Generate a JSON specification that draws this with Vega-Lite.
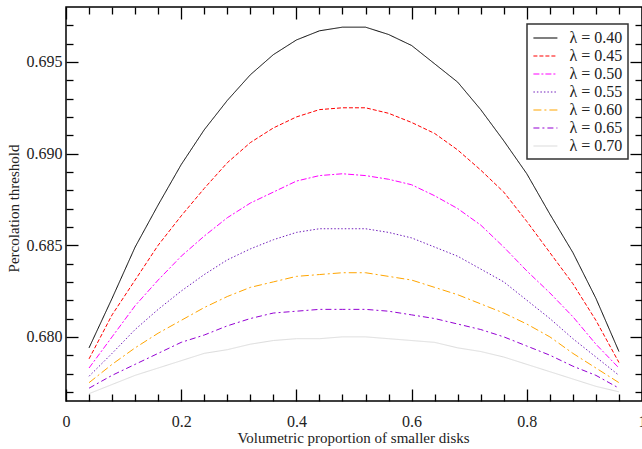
{
  "$schema": "https://vega.github.io/schema/vega-lite/v6.json",
  "autosize": {"type": "none"},
  "width": 576,
  "height": 394,
  "padding": {"left": 66, "top": 7, "right": 0, "bottom": 48},
  "background": "white",
  "config": {
    "view": {"stroke": "black", "strokeWidth": 1.5},
    "axis": {
      "domain": false,
      "grid": false,
      "labelFont": "Liberation Serif",
      "labelFontSize": 16,
      "labelColor": "#222222",
      "titleFont": "Liberation Serif",
      "titleFontSize": 15,
      "titleFontWeight": "normal",
      "titleColor": "#222222",
      "tickColor": "black",
      "tickWidth": 1.3
    },
    "legend": {
      "orient": "none",
      "legendX": 461,
      "legendY": 17,
      "strokeColor": "#333333",
      "strokeWidth": 1.5,
      "fillColor": "white",
      "padding": 5,
      "symbolType": "M-1.5,0H1.5",
      "symbolSize": 256,
      "symbolOffset": 4.4,
      "symbolStrokeWidth": 1.2,
      "labelFont": "Liberation Serif",
      "labelFontSize": 16,
      "labelColor": "#222222",
      "labelOffset": 15,
      "rowPadding": 1
    }
  },
  "datasets": {
    "curves": [
      {"x": 0.04, "y": 0.6794, "lam": "λ = 0.40"}, {"x": 0.08, "y": 0.6821, "lam": "λ = 0.40"}, {"x": 0.12, "y": 0.6849, "lam": "λ = 0.40"}, {"x": 0.16, "y": 0.6872, "lam": "λ = 0.40"}, {"x": 0.20, "y": 0.6894, "lam": "λ = 0.40"}, {"x": 0.24, "y": 0.6913, "lam": "λ = 0.40"}, {"x": 0.28, "y": 0.6929, "lam": "λ = 0.40"}, {"x": 0.32, "y": 0.6943, "lam": "λ = 0.40"}, {"x": 0.36, "y": 0.6954, "lam": "λ = 0.40"}, {"x": 0.40, "y": 0.6962, "lam": "λ = 0.40"}, {"x": 0.44, "y": 0.6967, "lam": "λ = 0.40"}, {"x": 0.48, "y": 0.6969, "lam": "λ = 0.40"}, {"x": 0.52, "y": 0.6969, "lam": "λ = 0.40"}, {"x": 0.56, "y": 0.6965, "lam": "λ = 0.40"}, {"x": 0.60, "y": 0.6959, "lam": "λ = 0.40"}, {"x": 0.64, "y": 0.6949, "lam": "λ = 0.40"}, {"x": 0.68, "y": 0.6939, "lam": "λ = 0.40"}, {"x": 0.72, "y": 0.6924, "lam": "λ = 0.40"}, {"x": 0.76, "y": 0.6907, "lam": "λ = 0.40"}, {"x": 0.80, "y": 0.6889, "lam": "λ = 0.40"}, {"x": 0.84, "y": 0.6867, "lam": "λ = 0.40"}, {"x": 0.88, "y": 0.6846, "lam": "λ = 0.40"}, {"x": 0.92, "y": 0.6821, "lam": "λ = 0.40"}, {"x": 0.96, "y": 0.6792, "lam": "λ = 0.40"},
      {"x": 0.04, "y": 0.6788, "lam": "λ = 0.45"}, {"x": 0.08, "y": 0.6812, "lam": "λ = 0.45"}, {"x": 0.12, "y": 0.6831, "lam": "λ = 0.45"}, {"x": 0.16, "y": 0.6850, "lam": "λ = 0.45"}, {"x": 0.20, "y": 0.6866, "lam": "λ = 0.45"}, {"x": 0.24, "y": 0.6881, "lam": "λ = 0.45"}, {"x": 0.28, "y": 0.6895, "lam": "λ = 0.45"}, {"x": 0.32, "y": 0.6906, "lam": "λ = 0.45"}, {"x": 0.36, "y": 0.6914, "lam": "λ = 0.45"}, {"x": 0.40, "y": 0.6920, "lam": "λ = 0.45"}, {"x": 0.44, "y": 0.6924, "lam": "λ = 0.45"}, {"x": 0.48, "y": 0.6925, "lam": "λ = 0.45"}, {"x": 0.52, "y": 0.6925, "lam": "λ = 0.45"}, {"x": 0.56, "y": 0.6922, "lam": "λ = 0.45"}, {"x": 0.60, "y": 0.6917, "lam": "λ = 0.45"}, {"x": 0.64, "y": 0.6911, "lam": "λ = 0.45"}, {"x": 0.68, "y": 0.6902, "lam": "λ = 0.45"}, {"x": 0.72, "y": 0.6891, "lam": "λ = 0.45"}, {"x": 0.76, "y": 0.6879, "lam": "λ = 0.45"}, {"x": 0.80, "y": 0.6863, "lam": "λ = 0.45"}, {"x": 0.84, "y": 0.6846, "lam": "λ = 0.45"}, {"x": 0.88, "y": 0.6829, "lam": "λ = 0.45"}, {"x": 0.92, "y": 0.6809, "lam": "λ = 0.45"}, {"x": 0.96, "y": 0.6786, "lam": "λ = 0.45"},
      {"x": 0.04, "y": 0.6783, "lam": "λ = 0.50"}, {"x": 0.08, "y": 0.6800, "lam": "λ = 0.50"}, {"x": 0.12, "y": 0.6817, "lam": "λ = 0.50"}, {"x": 0.16, "y": 0.6831, "lam": "λ = 0.50"}, {"x": 0.20, "y": 0.6844, "lam": "λ = 0.50"}, {"x": 0.24, "y": 0.6855, "lam": "λ = 0.50"}, {"x": 0.28, "y": 0.6865, "lam": "λ = 0.50"}, {"x": 0.32, "y": 0.6873, "lam": "λ = 0.50"}, {"x": 0.36, "y": 0.6879, "lam": "λ = 0.50"}, {"x": 0.40, "y": 0.6885, "lam": "λ = 0.50"}, {"x": 0.44, "y": 0.6888, "lam": "λ = 0.50"}, {"x": 0.48, "y": 0.6889, "lam": "λ = 0.50"}, {"x": 0.52, "y": 0.6888, "lam": "λ = 0.50"}, {"x": 0.56, "y": 0.6886, "lam": "λ = 0.50"}, {"x": 0.60, "y": 0.6883, "lam": "λ = 0.50"}, {"x": 0.64, "y": 0.6877, "lam": "λ = 0.50"}, {"x": 0.68, "y": 0.6870, "lam": "λ = 0.50"}, {"x": 0.72, "y": 0.6861, "lam": "λ = 0.50"}, {"x": 0.76, "y": 0.6849, "lam": "λ = 0.50"}, {"x": 0.80, "y": 0.6836, "lam": "λ = 0.50"}, {"x": 0.84, "y": 0.6824, "lam": "λ = 0.50"}, {"x": 0.88, "y": 0.6811, "lam": "λ = 0.50"}, {"x": 0.92, "y": 0.6796, "lam": "λ = 0.50"}, {"x": 0.96, "y": 0.6783, "lam": "λ = 0.50"},
      {"x": 0.04, "y": 0.67785, "lam": "λ = 0.55"}, {"x": 0.08, "y": 0.6791, "lam": "λ = 0.55"}, {"x": 0.12, "y": 0.6804, "lam": "λ = 0.55"}, {"x": 0.16, "y": 0.6815, "lam": "λ = 0.55"}, {"x": 0.20, "y": 0.6825, "lam": "λ = 0.55"}, {"x": 0.24, "y": 0.6834, "lam": "λ = 0.55"}, {"x": 0.28, "y": 0.6842, "lam": "λ = 0.55"}, {"x": 0.32, "y": 0.6848, "lam": "λ = 0.55"}, {"x": 0.36, "y": 0.6853, "lam": "λ = 0.55"}, {"x": 0.40, "y": 0.6857, "lam": "λ = 0.55"}, {"x": 0.44, "y": 0.6859, "lam": "λ = 0.55"}, {"x": 0.48, "y": 0.6859, "lam": "λ = 0.55"}, {"x": 0.52, "y": 0.6859, "lam": "λ = 0.55"}, {"x": 0.56, "y": 0.6857, "lam": "λ = 0.55"}, {"x": 0.60, "y": 0.6854, "lam": "λ = 0.55"}, {"x": 0.64, "y": 0.6849, "lam": "λ = 0.55"}, {"x": 0.68, "y": 0.6844, "lam": "λ = 0.55"}, {"x": 0.72, "y": 0.6837, "lam": "λ = 0.55"}, {"x": 0.76, "y": 0.6830, "lam": "λ = 0.55"}, {"x": 0.80, "y": 0.6820, "lam": "λ = 0.55"}, {"x": 0.84, "y": 0.6810, "lam": "λ = 0.55"}, {"x": 0.88, "y": 0.6799, "lam": "λ = 0.55"}, {"x": 0.92, "y": 0.6789, "lam": "λ = 0.55"}, {"x": 0.96, "y": 0.6779, "lam": "λ = 0.55"},
      {"x": 0.04, "y": 0.6775, "lam": "λ = 0.60"}, {"x": 0.08, "y": 0.6785, "lam": "λ = 0.60"}, {"x": 0.12, "y": 0.6794, "lam": "λ = 0.60"}, {"x": 0.16, "y": 0.6802, "lam": "λ = 0.60"}, {"x": 0.20, "y": 0.6809, "lam": "λ = 0.60"}, {"x": 0.24, "y": 0.6816, "lam": "λ = 0.60"}, {"x": 0.28, "y": 0.6822, "lam": "λ = 0.60"}, {"x": 0.32, "y": 0.6827, "lam": "λ = 0.60"}, {"x": 0.36, "y": 0.6830, "lam": "λ = 0.60"}, {"x": 0.40, "y": 0.6833, "lam": "λ = 0.60"}, {"x": 0.44, "y": 0.6834, "lam": "λ = 0.60"}, {"x": 0.48, "y": 0.6835, "lam": "λ = 0.60"}, {"x": 0.52, "y": 0.6835, "lam": "λ = 0.60"}, {"x": 0.56, "y": 0.6833, "lam": "λ = 0.60"}, {"x": 0.60, "y": 0.6831, "lam": "λ = 0.60"}, {"x": 0.64, "y": 0.6827, "lam": "λ = 0.60"}, {"x": 0.68, "y": 0.6823, "lam": "λ = 0.60"}, {"x": 0.72, "y": 0.6818, "lam": "λ = 0.60"}, {"x": 0.76, "y": 0.6813, "lam": "λ = 0.60"}, {"x": 0.80, "y": 0.6807, "lam": "λ = 0.60"}, {"x": 0.84, "y": 0.6800, "lam": "λ = 0.60"}, {"x": 0.88, "y": 0.6791, "lam": "λ = 0.60"}, {"x": 0.92, "y": 0.6783, "lam": "λ = 0.60"}, {"x": 0.96, "y": 0.6775, "lam": "λ = 0.60"},
      {"x": 0.04, "y": 0.6772, "lam": "λ = 0.65"}, {"x": 0.08, "y": 0.6779, "lam": "λ = 0.65"}, {"x": 0.12, "y": 0.6785, "lam": "λ = 0.65"}, {"x": 0.16, "y": 0.6791, "lam": "λ = 0.65"}, {"x": 0.20, "y": 0.6797, "lam": "λ = 0.65"}, {"x": 0.24, "y": 0.6801, "lam": "λ = 0.65"}, {"x": 0.28, "y": 0.6806, "lam": "λ = 0.65"}, {"x": 0.32, "y": 0.6810, "lam": "λ = 0.65"}, {"x": 0.36, "y": 0.6813, "lam": "λ = 0.65"}, {"x": 0.40, "y": 0.6814, "lam": "λ = 0.65"}, {"x": 0.44, "y": 0.6815, "lam": "λ = 0.65"}, {"x": 0.48, "y": 0.6815, "lam": "λ = 0.65"}, {"x": 0.52, "y": 0.6815, "lam": "λ = 0.65"}, {"x": 0.56, "y": 0.6814, "lam": "λ = 0.65"}, {"x": 0.60, "y": 0.6812, "lam": "λ = 0.65"}, {"x": 0.64, "y": 0.6810, "lam": "λ = 0.65"}, {"x": 0.68, "y": 0.6807, "lam": "λ = 0.65"}, {"x": 0.72, "y": 0.6804, "lam": "λ = 0.65"}, {"x": 0.76, "y": 0.6800, "lam": "λ = 0.65"}, {"x": 0.80, "y": 0.6795, "lam": "λ = 0.65"}, {"x": 0.84, "y": 0.6790, "lam": "λ = 0.65"}, {"x": 0.88, "y": 0.6784, "lam": "λ = 0.65"}, {"x": 0.92, "y": 0.6779, "lam": "λ = 0.65"}, {"x": 0.96, "y": 0.6772, "lam": "λ = 0.65"},
      {"x": 0.04, "y": 0.6769, "lam": "λ = 0.70"}, {"x": 0.08, "y": 0.6774, "lam": "λ = 0.70"}, {"x": 0.12, "y": 0.6779, "lam": "λ = 0.70"}, {"x": 0.16, "y": 0.6783, "lam": "λ = 0.70"}, {"x": 0.20, "y": 0.6787, "lam": "λ = 0.70"}, {"x": 0.24, "y": 0.6791, "lam": "λ = 0.70"}, {"x": 0.28, "y": 0.6793, "lam": "λ = 0.70"}, {"x": 0.32, "y": 0.6796, "lam": "λ = 0.70"}, {"x": 0.36, "y": 0.6798, "lam": "λ = 0.70"}, {"x": 0.40, "y": 0.6799, "lam": "λ = 0.70"}, {"x": 0.44, "y": 0.6799, "lam": "λ = 0.70"}, {"x": 0.48, "y": 0.6800, "lam": "λ = 0.70"}, {"x": 0.52, "y": 0.6800, "lam": "λ = 0.70"}, {"x": 0.56, "y": 0.6799, "lam": "λ = 0.70"}, {"x": 0.60, "y": 0.6798, "lam": "λ = 0.70"}, {"x": 0.64, "y": 0.6797, "lam": "λ = 0.70"}, {"x": 0.68, "y": 0.6794, "lam": "λ = 0.70"}, {"x": 0.72, "y": 0.6792, "lam": "λ = 0.70"}, {"x": 0.76, "y": 0.6789, "lam": "λ = 0.70"}, {"x": 0.80, "y": 0.6785, "lam": "λ = 0.70"}, {"x": 0.84, "y": 0.6781, "lam": "λ = 0.70"}, {"x": 0.88, "y": 0.6777, "lam": "λ = 0.70"}, {"x": 0.92, "y": 0.6773, "lam": "λ = 0.70"}, {"x": 0.96, "y": 0.6770, "lam": "λ = 0.70"}
    ]
  },
  "data": {"name": "curves"},
  "resolve": {"axis": {"x": "independent", "y": "independent"}},
  "layer": [
    {
      "mark": {"type": "line", "strokeWidth": 1, "clip": true},
      "encoding": {
        "x": {"field": "x", "type": "quantitative",
          "scale": {"domain": [0, 1], "nice": false, "zero": false},
          "axis": {"orient": "bottom", "values": [0, 0.2, 0.4, 0.6, 0.8, 1], "format": "~g", "tickSize": -12, "labelPadding": 24, "labelFlush": false, "labelOverlap": false,
            "title": "Volumetric proportion of smaller disks", "titleX": 287, "titleY": 29, "titleBaseline": "top", "titleAnchor": null}},
        "y": {"field": "y", "type": "quantitative",
          "scale": {"domain": [0.6765, 0.698], "nice": false, "zero": false},
          "axis": {"orient": "left", "values": [0.68, 0.685, 0.69, 0.695], "format": ".3f", "tickSize": -12, "labelPadding": 16,
            "title": "Percolation threshold", "titleX": -45, "titleY": 201, "titleAngle": -90, "titleBaseline": "bottom", "titleAlign": "center"}},
        "color": {"field": "lam", "type": "nominal", "title": null,
          "scale": {"domain": ["λ = 0.40", "λ = 0.45", "λ = 0.50", "λ = 0.55", "λ = 0.60", "λ = 0.65", "λ = 0.70"],
            "range": ["#000000", "#ff0000", "#ff00ff", "#7221bc", "#ffa500", "#9400d3", "#dcdcdc"]},
          "legend": {"encode": {"symbols": {"update": {"stroke": {"scale": "color", "field": "value"}, "strokeDash": {"scale": "strokeDash", "field": "value"}, "strokeWidth": {"value": 1.2}}}}}},
        "strokeDash": {"field": "lam", "type": "nominal", "legend": null,
          "scale": {"domain": ["λ = 0.40", "λ = 0.45", "λ = 0.50", "λ = 0.55", "λ = 0.60", "λ = 0.65", "λ = 0.70"],
            "range": [[1, 0], [4, 2], [6, 2, 2, 2], [1.5, 2], [8, 3, 2, 3], [6, 3, 2, 3], [1, 0]]}}
      }
    },
    {
      "mark": {"type": "point", "opacity": 0},
      "encoding": {
        "x": {"field": "x", "type": "quantitative", "axis": {"orient": "bottom", "values": [0.04, 0.08, 0.12, 0.16, 0.24, 0.28, 0.32, 0.36, 0.44, 0.48, 0.52, 0.56, 0.64, 0.68, 0.72, 0.76, 0.84, 0.88, 0.92, 0.96], "tickSize": -7, "labels": false, "title": null}},
        "y": {"field": "y", "type": "quantitative", "axis": {"orient": "left", "values": [0.677, 0.678, 0.679, 0.681, 0.682, 0.683, 0.684, 0.686, 0.687, 0.688, 0.689, 0.691, 0.692, 0.693, 0.694, 0.696, 0.697], "tickSize": -7, "labels": false, "title": null}}
      }
    },
    {
      "mark": {"type": "point", "opacity": 0},
      "encoding": {
        "x": {"field": "x", "type": "quantitative", "axis": {"orient": "top", "values": [0, 0.2, 0.4, 0.6, 0.8, 1], "tickSize": -12, "labels": false, "title": null}},
        "y": {"field": "y", "type": "quantitative", "axis": {"orient": "right", "values": [0.68, 0.685, 0.69, 0.695], "tickSize": -12, "labels": false, "title": null}}
      }
    },
    {
      "mark": {"type": "point", "opacity": 0},
      "encoding": {
        "x": {"field": "x", "type": "quantitative", "axis": {"orient": "top", "values": [0.04, 0.08, 0.12, 0.16, 0.24, 0.28, 0.32, 0.36, 0.44, 0.48, 0.52, 0.56, 0.64, 0.68, 0.72, 0.76, 0.84, 0.88, 0.92, 0.96], "tickSize": -7, "labels": false, "title": null}},
        "y": {"field": "y", "type": "quantitative", "axis": {"orient": "right", "values": [0.677, 0.678, 0.679, 0.681, 0.682, 0.683, 0.684, 0.686, 0.687, 0.688, 0.689, 0.691, 0.692, 0.693, 0.694, 0.696, 0.697], "tickSize": -7, "labels": false, "title": null}}
      }
    }
  ]
}
